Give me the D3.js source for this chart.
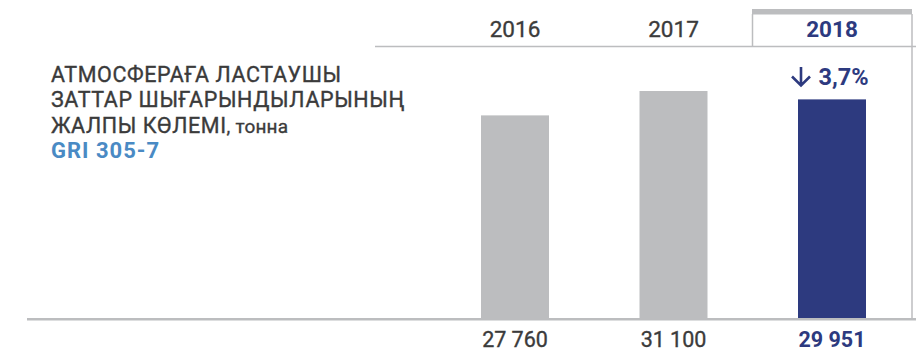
<!DOCTYPE html>
<html>
<head>
<meta charset="utf-8">
<script src="https://cdn.jsdelivr.net/npm/d3@7"></script>
<style>
  html, body { margin: 0; padding: 0; background: #fff; }
  svg { display: block; font-family: Roboto, "Noto Sans", sans-serif; }
</style>
</head>
<body>
<svg id="chart" width="916" height="353"></svg>
<script>
// Emissions of pollutants into the atmosphere, tonnes
const years = ["2016", "2017", "2018"];
const values = [27760, 31100, 29951];
const valueLabels = ["27 760", "31 100", "29 951"];
const titleLines = ["АТМОСФЕРАҒА ЛАСТАУШЫ", "ЗАТТАР ШЫҒАРЫНДЫЛАРЫНЫҢ"];
const titleLast = ["ЖАЛПЫ КӨЛЕМІ", ", тонна"];
const griLabel = "GRI 305-7";
const changeLabel = "3,7%";

const GREY = "#bcbdbf";
const NAVY = "#2d3a7f";
const TEXT = "#3b3b3b";
const BLUE = "#4a8ac4";

const svg = d3.select("#chart");
const baseY = 318;

const x = d3.scalePoint().domain(years).range([515, 832]);
const y = d3.scaleLinear().domain([0, d3.max(values)]).range([baseY, 91]);
const barW = 68;
const current = years[years.length - 1];

// regular labels get a hairline stroke for a medium weight
const medium = sel => sel.attr("stroke", TEXT).attr("stroke-width", 0.35);

// highlight frame around the current year
const fx0 = x(current) - 80, fx1 = x(current) + 80;
svg.append("rect").attr("x", fx0).attr("y", 9).attr("width", fx1 - fx0).attr("height", 5.5).attr("fill", GREY);
svg.append("line").attr("x1", fx0 + 0.5).attr("x2", fx0 + 0.5).attr("y1", 14).attr("y2", 46)
  .attr("stroke", GREY).attr("stroke-width", 1.5);
svg.append("line").attr("x1", fx1).attr("x2", fx1).attr("y1", 14).attr("y2", baseY)
  .attr("stroke", GREY).attr("stroke-width", 1.5);

// header rule
svg.append("line").attr("x1", 375).attr("x2", 916).attr("y1", 46.5).attr("y2", 46.5)
  .attr("stroke", GREY).attr("stroke-width", 1.5);

// bars
svg.selectAll("rect.bar").data(values).join("rect")
  .attr("class", "bar")
  .attr("x", (d, i) => x(years[i]) - barW / 2)
  .attr("width", barW)
  .attr("y", d => y(d))
  .attr("height", d => baseY - y(d))
  .attr("fill", (d, i) => years[i] === current ? NAVY : GREY);

// baseline
svg.append("line").attr("x1", 27).attr("x2", 916).attr("y1", baseY + 1.3).attr("y2", baseY + 1.3)
  .attr("stroke", GREY).attr("stroke-width", 2.6);

// year headers
svg.selectAll("text.year").data(years).join("text")
  .attr("class", "year")
  .attr("x", d => x(d)).attr("y", 37.3)
  .attr("text-anchor", "middle")
  .attr("font-size", 22.5)
  .attr("font-weight", d => d === current ? 700 : 400)
  .attr("fill", d => d === current ? NAVY : TEXT)
  .attr("stroke", d => d === current ? "none" : TEXT)
  .attr("stroke-width", 0.35)
  .text(d => d);

// value labels
svg.selectAll("text.val").data(valueLabels).join("text")
  .attr("class", "val")
  .attr("x", (d, i) => x(years[i])).attr("y", 346.5)
  .attr("text-anchor", "middle")
  .attr("font-size", 21.5)
  .attr("font-weight", (d, i) => years[i] === current ? 700 : 400)
  .attr("fill", (d, i) => years[i] === current ? NAVY : TEXT)
  .attr("stroke", (d, i) => years[i] === current ? "none" : TEXT)
  .attr("stroke-width", 0.35)
  .text(d => d);

// change vs previous year
const cg = svg.append("g").attr("transform", `translate(${x(current)}, 0)`);
cg.append("path")
  .attr("d", "M-31,67 L-31,85 M-40,76.5 L-31,85.5 L-22,76.5")
  .attr("fill", "none").attr("stroke", NAVY).attr("stroke-width", 2.6)
  .attr("stroke-linejoin", "miter");
cg.append("text").attr("x", -13.5).attr("y", 85)
  .attr("font-size", 23.5).attr("font-weight", 700).attr("fill", NAVY)
  .text(changeLabel);

// title block
const lineH = 25.6;
const t = svg.append("g").attr("fill", TEXT).attr("font-size", 21.5).attr("font-weight", 400)
  .attr("letter-spacing", 0.6).call(medium);
titleLines.forEach((s, i) => {
  t.append("text").attr("x", 51).attr("y", 81.5 + i * lineH).text(s);
});
const last = t.append("text").attr("x", 51).attr("y", 81.5 + 2 * lineH);
last.append("tspan").text(titleLast[0]);
last.append("tspan").attr("font-size", 19).attr("letter-spacing", 0.2).text(titleLast[1]);
svg.append("text").attr("x", 51).attr("y", 81.5 + 3 * lineH)
  .attr("font-size", 22).attr("font-weight", 700).attr("fill", BLUE)
  .attr("letter-spacing", 1)
  .text(griLabel);
</script>
</body>
</html>
